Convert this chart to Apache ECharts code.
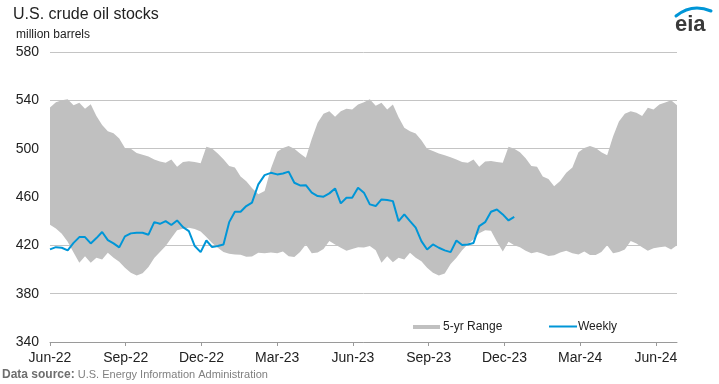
<!DOCTYPE html>
<html><head><meta charset="utf-8">
<script src="https://cdn.jsdelivr.net/npm/echarts@6/dist/echarts.min.js"></script>
<style>html,body{margin:0;padding:0;background:#fff}#c{width:719px;height:384px}</style>
</head><body><div id="c"></div>
<script>
// ---- data (million barrels) ----
const firstWeek = '2022-06-01';        // first weekly observation
const xTickLabels = ['Jun-22','Sep-22','Dec-22','Mar-23','Jun-23','Sep-23','Dec-23','Mar-24','Jun-24'];
const yTicks = [340, 380, 420, 460, 500, 540, 580];
const legendLabels = ['5-yr Range', 'Weekly'];

const rangeHigh = [
534,538.5,540,540.8,535.9,538,533,536.7,527,519.5,
514.5,512.8,508.5,500.5,500,496.5,495,493.5,491,489.3,
488.4,491,485,489,489.5,489,488,501.5,500.2,496,
491.3,485.6,484.5,477,473,467.5,462.2,465,483.5,497.5,
500.5,502.2,500,496,492.5,508,521.5,529,531,526.5,
531,533,532.5,536.5,538.5,540.8,535.5,538,532.5,536.5,
526,517.4,514.5,512.5,507,500,498,496,494.5,493,
491,489,488.4,491,485,489.3,489.8,489,488.4,501.5,
500,497,492,485.6,485,477,475,469,473.2,480,
484.5,497,500.5,502.2,500.5,497,494.5,510,522.5,528.8,
531,529.8,527,533.8,532.5,536.5,538.3,540,535.9];

const rangeLow = [
437,434,429.5,423,414,405.6,411,405.6,409.7,408.3,
413.8,409.7,406.5,401.4,397.3,395,397,402,409.5,414.5,
419.5,426,432.5,433.7,434.5,433.5,431.5,427,422,418,
414.5,413,412.5,412.3,410.5,410.8,413.8,413.5,414,413.5,
415,411,410.3,414.5,420.7,413.5,414,417,423.5,420.7,
418,415.5,417,418.5,418.3,419.4,416,405.6,411,406,
409.7,408.3,413.8,409.7,406.9,401.4,397.3,395,396.7,404.5,
409.7,416,421,425,430,432.5,432,423,415,423,
420,418.5,415.5,413.5,414.5,413,411.1,411.8,414,415.5,
413.5,412.5,415,412,412,414.5,420,413.5,414.4,416.5,
423.5,421.5,418.5,415.5,417.5,418.5,419,416.6,420];

const weekly = [
416.6,418.5,418,415.8,422,426.8,426.8,421.6,426,431,
424.3,421.6,418.3,427.4,429.9,430.4,430.4,428.8,439.2,437.8,
440,436.8,440.6,435,431.8,419.4,414.4,424,418.5,419.5,
420.7,439.2,447.8,447.8,452.5,455.3,470.4,478.1,480,478.7,
479.5,481,471.8,469.6,469.8,463.6,460.8,460.3,463,467.1,
454.7,459.4,459.4,467.7,463.6,453.9,452.5,458,457.5,456.6,
440,445.6,440,434.6,423.5,416.6,420.7,418,415.8,414.4,
424,420.2,420.7,422,435.9,439.2,447.8,449.7,445.6,440.6,
443.6];

// ---- helpers: week index -> months since Jun 1, 2022 ----
function monthPos(i) {
  const p = firstWeek.split('-').map(Number);
  const d = new Date(Date.UTC(p[0], p[1]-1, p[2]) + i*7*86400000);
  const y = d.getUTCFullYear(), m = d.getUTCMonth(), day = d.getUTCDate();
  const dim = new Date(Date.UTC(y, m+1, 0)).getUTCDate();
  return (y-2022)*12 + (m-5) + (day-1)/dim;
}
const bandData = rangeHigh.map((v,i)=>[monthPos(i), rangeLow[i], v]);
const weeklyData = weekly.map((v,i)=>[monthPos(i), v]);
const xMax = monthPos(rangeHigh.length-1);

const BAND = '#c0c0c0', BLUE = '#0096d7';
const FONT = '"Liberation Sans", Arial, sans-serif';
const chart = echarts.init(document.getElementById('c'), null, {renderer:'canvas'});
chart.setOption({
  animation: false,
  backgroundColor: '#fff',
  grid: {left: 50, right: 42, top: 52, bottom: 42, containLabel: false},
  xAxis: {
    type: 'value', min: 0, max: xMax, interval: 3,
    axisLine: {show: true, lineStyle: {color: '#9a9a9a', width: 1}},
    axisTick: {show: true, length: 4, lineStyle: {color: '#9a9a9a'}},
    splitLine: {show: false},
    axisLabel: {show: true, margin: 9, showMaxLabel: false, color: '#222', fontSize: 14, fontFamily: FONT,
      formatter: v => xTickLabels[Math.round(v/3)] || ''}
  },
  yAxis: {
    type: 'value', min: yTicks[0], max: yTicks[yTicks.length-1], interval: 40,
    axisLine: {show: false}, axisTick: {show: false},
    splitLine: {show: true, lineStyle: {color: '#c4c4c4', width: 1}},
    axisLabel: {margin: 11, color: '#222', fontSize: 14, fontFamily: FONT}
  },
  series: [
    {name: legendLabels[0], type: 'custom', data: bandData, silent: true, z: 2,
     encode: {x: 0, y: [1, 2]},
     renderItem: function (params, api) {
       if (params.dataIndex !== 0) return null;
       const top = [], bot = [];
       for (let i = 0; i < bandData.length; i++) {
         top.push(api.coord([bandData[i][0], bandData[i][2]]));
         bot.push(api.coord([bandData[i][0], bandData[i][1]]));
       }
       return {type: 'polygon', shape: {points: top.concat(bot.reverse())},
               style: {fill: BAND, stroke: null}};
     }},
    {name: legendLabels[1], type: 'line', data: weeklyData, symbol: 'none', silent: true,
     lineStyle: {color: BLUE, width: 2}, z: 3}
  ],
  graphic: [
    {type: 'text', left: 13, top: 7, style: {text: 'U.S. crude oil stocks', fill: '#222', font: '16px ' + FONT}},
    {type: 'text', left: 16, top: 29, style: {text: 'million barrels', fill: '#222', font: '12px ' + FONT}},
    {type: 'text', left: 2, top: 369, style: {
      text: '{b|Data source:} U.S. Energy Information Administration', fill: '#808080', font: '11px ' + FONT,
      rich: {b: {fontWeight: 'bold', fill: '#6e6e6e', font: 'bold 11px ' + FONT}}}},
    // legend
    {type: 'rect', shape: {x: 413, y: 325, width: 27, height: 4}, style: {fill: BAND}},
    {type: 'text', x: 443, y: 327, style: {text: legendLabels[0], fill: '#222', font: '12px ' + FONT, verticalAlign: 'middle'}},
    {type: 'line', shape: {x1: 549, y1: 326.5, x2: 577, y2: 326.5}, style: {stroke: BLUE, lineWidth: 2}},
    {type: 'text', x: 578, y: 327, style: {text: legendLabels[1], fill: '#222', font: '12px ' + FONT, verticalAlign: 'middle'}},
    // eia logo
    {type: 'text', x: 675, y: 36, style: {text: 'eia', fill: '#3a3a3a', font: 'bold 22px ' + FONT, verticalAlign: 'bottom'}},
    {type: 'bezierCurve', shape: {x1: 676, y1: 16, cpx1: 692, cpy1: 3, x2: 711, y2: 11},
     style: {stroke: BLUE, lineWidth: 3, fill: null, lineCap: 'round'}}
  ]
});
</script></body></html>
